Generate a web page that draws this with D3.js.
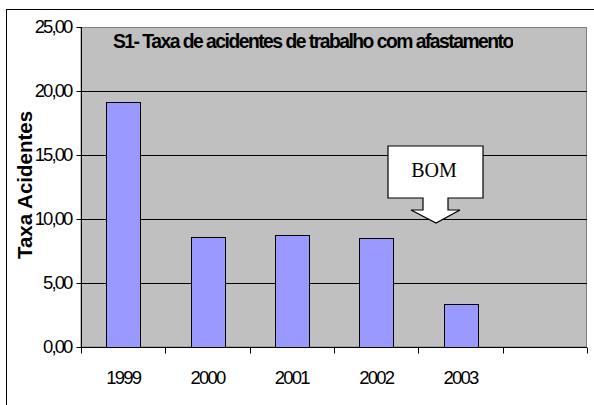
<!DOCTYPE html>
<html><head><meta charset="utf-8">
<script src="https://cdn.jsdelivr.net/npm/d3@7"></script>
<style>body{margin:0;background:#fff}svg{display:block}</style>
</head><body>
<script>
const categories = ["1999","2000","2001","2002","2003",""];
const values = [19.12, 8.62, 8.75, 8.49, 3.38, null];
const yTicks = [0,5,10,15,20,25];
const titleText = "S1- Taxa de acidentes de trabalho com afastamento";
const yTitle = "Taxa Acidentes";
const calloutText = "BOM";

const W=594,H=405;
const svg=d3.select("body").append("svg").attr("width",W).attr("height",H);
svg.append("rect").attr("x",6.5).attr("y",9.5).attr("width",W+10).attr("height",H+10).attr("fill","#fff").attr("stroke","#000");

const m={l:81,r:587,t:27,b:347};
const x=d3.scaleBand().domain(categories.map((c,i)=>i)).range([m.l,m.r]);
const y=d3.scaleLinear().domain([0,25]).range([m.b,m.t]);

svg.append("rect").attr("x",m.l).attr("y",m.t+0.5).attr("width",m.r-m.l-0.5).attr("height",m.b-m.t-0.5)
  .attr("fill","#c0c0c0").attr("stroke","#808080");

svg.append("g").selectAll("line").data(yTicks.filter(v=>v>0&&v<25)).join("line")
  .attr("x1",m.l).attr("x2",m.r).attr("y1",d=>Math.round(y(d))+0.5).attr("y2",d=>Math.round(y(d))+0.5)
  .attr("stroke","#000");

const bw=x.bandwidth()*0.4;
svg.append("g").selectAll("rect").data(values.map((v,i)=>({v,i})).filter(d=>d.v!=null)).join("rect")
  .attr("x",d=>Math.round(x(d.i)+(x.bandwidth()-bw)/2)+0.5).attr("width",Math.round(bw))
  .attr("y",d=>Math.round(y(d.v))+0.5).attr("height",d=>Math.round(y(0))-Math.round(y(d.v)))
  .attr("fill","#9999ff").attr("stroke","#000");

// y axis
const ya=svg.append("g").attr("transform",`translate(${m.l+0.5},0)`)
  .call(d3.axisLeft(y).tickValues(yTicks).tickSize(5).tickPadding(5).tickFormat(d=>d3.format(".2f")(d).replace(".",",")));
ya.select(".domain").attr("d",`M0,${m.t}V${m.b}`).attr("stroke","#000");
ya.selectAll("text").attr("font-family","Liberation Sans, Arial").attr("font-size",18.5).attr("letter-spacing",-1.9).attr("fill","#000");
ya.selectAll(".tick line").attr("stroke","#000");

// x axis
const xa=svg.append("g").attr("transform",`translate(0,${m.b+0.5})`);
xa.append("line").attr("x1",m.l).attr("x2",m.r).attr("stroke","#000");
const bounds=categories.map((c,i)=>x(i)).concat([m.r]);
xa.selectAll("line.t").data(bounds).join("line").attr("class","t")
  .attr("x1",d=>Math.round(d)+0.5).attr("x2",d=>Math.round(d)+0.5).attr("y1",0).attr("y2",6).attr("stroke","#000");
xa.selectAll("text").data(categories).join("text")
  .attr("x",(d,i)=>x(i)+x.bandwidth()/2).attr("y",36).attr("text-anchor","middle")
  .attr("font-family","Liberation Sans, Arial").attr("font-size",18.5).attr("letter-spacing",-1.8).text(d=>d);

// title
svg.append("clipPath").attr("id","tc").append("rect").attr("x",100).attr("y",28).attr("width",413).attr("height",30);
svg.append("text").attr("clip-path","url(#tc)").attr("x",113).attr("y",47.5)
  .attr("font-family","Liberation Sans, Arial").attr("font-weight","bold").attr("font-size",19.3).attr("letter-spacing",-1.5)
  .text(titleText);

// y title
svg.append("text").attr("transform","translate(32,185) rotate(-90)").attr("text-anchor","middle")
  .attr("font-family","Liberation Sans, Arial").attr("font-weight","bold").attr("font-size",20.5).text(yTitle);

// callout
const cx=436;
const p=d3.path();
p.moveTo(388,146);p.lineTo(483,146);p.lineTo(483,198);p.lineTo(448,198);p.lineTo(448,210);p.lineTo(460,210);
p.lineTo(cx,223);p.lineTo(411,210);p.lineTo(423,210);p.lineTo(423,198);p.lineTo(388,198);p.closePath();
svg.append("path").attr("d",p.toString()).attr("fill","#fff").attr("stroke","#000").attr("stroke-width",1.2);
svg.append("text").attr("x",cx-2).attr("y",177).attr("text-anchor","middle")
  .attr("font-family","Liberation Serif, Times New Roman").attr("font-size",20).text(calloutText);
</script>
</body></html>
